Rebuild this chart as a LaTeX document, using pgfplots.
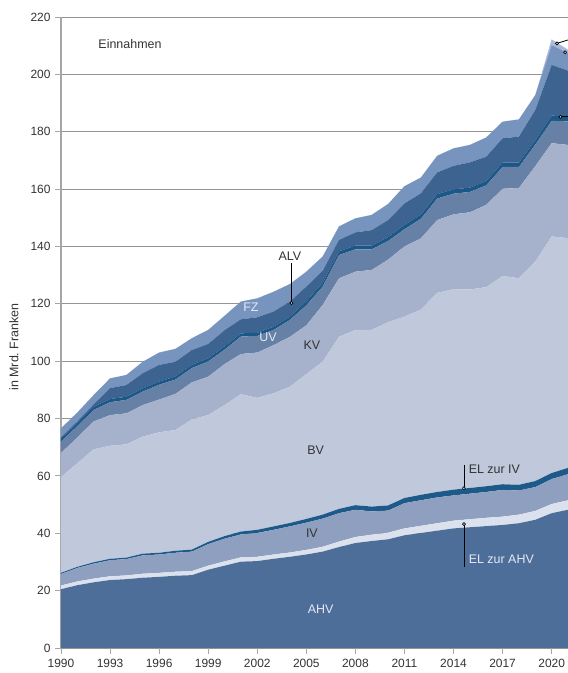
\documentclass[border=0pt]{standalone}
\usepackage{fontspec}
\setmainfont{Liberation Sans}
\usepackage{pgfplots}
\usepackage{pgfplotstable}
\pgfplotsset{compat=1.18}
\definecolor{cAHV}{HTML}{4E6E9A}
\definecolor{cELAHV}{HTML}{DCE1EE}
\definecolor{cIV}{HTML}{8E9FC0}
\definecolor{cELIV}{HTML}{1D5A8A}
\definecolor{cBV}{HTML}{C0C9DC}
\definecolor{cKV}{HTML}{A6B1CC}
\definecolor{cUV}{HTML}{6780A6}
\definecolor{cEO}{HTML}{1B5787}
\definecolor{cALV}{HTML}{3D6390}
\definecolor{cFZ}{HTML}{7794BE}
\definecolor{cCE}{HTML}{A8BAD6}
\definecolor{txt}{HTML}{333333}
\definecolor{ltxt}{HTML}{E4E9F3}
\pgfplotstableread{
year AHV ELAHV IV ELIV BV KV UV EO ALV FZ CE
1990 20.5 1.3 4.0 0.4 33.4 8.4 3.9 1.1 0.4 3.2 0
1991 21.9 1.3 4.7 0.4 36.1 9.0 4.0 1.1 0.5 3.1 0
1992 22.9 1.3 5.2 0.5 39.4 9.7 4.0 1.1 0.9 3.2 0
1993 23.7 1.3 5.6 0.5 39.4 10.7 4.5 1.1 3.8 3.4 0
1994 24.0 1.3 5.7 0.5 39.5 10.8 4.7 1.1 4.1 3.5 0
1995 24.5 1.4 6.4 0.6 40.8 11.0 4.7 1.1 5.3 4.0 0
1996 24.8 1.4 6.4 0.6 42.0 11.4 5.2 1.1 5.8 4.3 0
1997 25.2 1.4 6.6 0.7 42.1 12.6 5.0 1.1 5.1 4.5 0
1998 25.4 1.4 6.8 0.7 45.4 12.9 5.0 1.1 5.2 4.1 0
1999 27.3 1.4 7.5 0.8 44.2 13.4 5.3 1.1 5.0 4.9 0
2000 28.7 1.5 7.9 0.9 45.7 14.3 5.0 1.1 5.7 5.0 0
2001 30.1 1.5 8.0 1.0 47.9 14.0 6.1 1.1 4.9 6.2 0
2002 30.3 1.5 8.3 1.1 46.0 15.8 5.8 1.1 5.4 6.6 0
2003 31.1 1.5 8.6 1.2 46.4 16.8 5.3 1.1 5.3 6.9 0
2004 31.8 1.5 9.1 1.2 47.5 17.4 5.9 1.1 5.3 6.1 0
2005 32.6 1.6 9.5 1.3 50.5 17.0 7.0 1.3 5.2 5.2 0
2006 33.6 1.7 9.8 1.4 53.3 19.8 6.4 1.3 4.2 5.0 0
2007 35.2 1.9 9.9 1.5 60.0 20.4 8.1 1.3 4.0 4.7 0
2008 36.6 2.1 9.5 1.6 61.1 20.3 7.8 1.3 4.6 4.9 0
2009 37.3 2.2 8.1 1.7 61.6 20.9 7.2 1.3 5.4 5.3 0
2010 37.9 2.3 7.7 1.8 63.9 21.8 6.5 1.3 6.0 5.6 0
2011 39.3 2.4 8.8 1.8 63.2 24.5 6.0 1.5 7.5 6.0 0
2012 40.1 2.5 8.9 1.9 64.6 24.8 6.8 1.5 7.4 5.5 0
2013 40.9 2.6 9.0 1.9 69.4 25.4 7.5 1.5 7.6 5.8 0
2014 41.7 2.7 8.8 2.0 69.9 26.1 7.2 1.5 8.2 6.1 0
2015 42.1 2.8 8.9 2.0 69.2 26.9 7.1 1.5 8.8 6.1 0
2016 42.5 2.9 9.0 2.0 69.4 28.7 6.8 1.5 8.5 6.7 0
2017 42.9 2.9 9.3 2.0 72.6 30.4 7.6 1.5 8.5 5.8 0
2018 43.5 3.0 8.4 2.0 72.0 31.5 7.3 1.5 9.1 6.0 0
2019 44.7 3.1 8.3 2.1 76.5 33.3 7.5 1.5 10.6 5.2 0
2020 47.0 3.2 8.7 2.1 82.5 32.5 7.8 1.8 17.7 6.9 2.0
2021 48.2 3.3 9.1 2.2 80.1 32.5 8.2 1.8 15.9 6.1 1.2
}\data
\begin{document}
\begin{tikzpicture}[lab/.style={inner sep=0, font=\fontsize{12.5}{14}\selectfont}]
\begin{axis}[
  width=507bp, height=631bp, scale only axis,
  xmin=1990, xmax=2021, ymin=0, ymax=220,
  xtick={1990,1993,...,2020}, ytick={0,20,...,220},
  axis lines=left, axis line style={-},
  x axis line style={draw=none},
  y axis line style={draw=black!35, line width=1.2bp},
  ymajorgrids, grid style={draw=black!42, line width=0.8bp},
  tick align=outside, major tick length=6bp,
  tick style={draw=black!35, line width=0.9bp},
  xticklabel style={font=\fontsize{12}{14}\selectfont, text=txt, yshift=-2bp},
  yticklabel style={font=\fontsize{12}{14}\selectfont, text=txt, xshift=-1bp},
  /pgf/number format/assume math mode=true,
  /pgf/number format/1000 sep={},
  ylabel={in Mrd.\ Franken},
  every axis y label/.style={at={(axis description cs:-0.093,0.477)}, rotate=90, anchor=center, font=\fontsize{12.5}{14}\selectfont, text=txt},
  stack plots=y,
]
\addplot[fill=cAHV, draw=none] table[x=year, y=AHV]{\data} \closedcycle;
\addplot[fill=cELAHV, draw=none] table[x=year, y=ELAHV]{\data} \closedcycle;
\addplot[fill=cIV, draw=none] table[x=year, y=IV]{\data} \closedcycle;
\addplot[fill=cELIV, draw=none] table[x=year, y=ELIV]{\data} \closedcycle;
\addplot[fill=cBV, draw=none] table[x=year, y=BV]{\data} \closedcycle;
\addplot[fill=cKV, draw=none] table[x=year, y=KV]{\data} \closedcycle;
\addplot[fill=cUV, draw=none] table[x=year, y=UV]{\data} \closedcycle;
\addplot[fill=cEO, draw=none] table[x=year, y=EO]{\data} \closedcycle;
\addplot[fill=cALV, draw=none] table[x=year, y=ALV]{\data} \closedcycle;
\addplot[fill=cFZ, draw=none] table[x=year, y=FZ]{\data} \closedcycle;
\addplot[fill=cCE, draw=none] table[x=year, y=CE]{\data} \closedcycle;
\coordinate (ll) at (rel axis cs:0,0);
\coordinate (ur) at (rel axis cs:1,1);
\coordinate (tEin) at (axis cs:1992.28,210.7);
\coordinate (tFZ) at (axis cs:2001.61,118.7);
\coordinate (tUV) at (axis cs:2002.66,108.3);
\coordinate (tKV) at (axis cs:2005.34,105.6);
\coordinate (tALV) at (axis cs:2004.0,136.7);
\coordinate (tBV) at (axis cs:2005.57,68.9);
\coordinate (tIV) at (axis cs:2005.34,40.0);
\coordinate (tAHV) at (axis cs:2005.87,13.5);
\coordinate (tELIV) at (axis cs:2014.92,62.4);
\coordinate (tELAHV) at (axis cs:2014.92,30.9);
\coordinate (a1) at (axis cs:2004.09,134.1);
\coordinate (a2) at (axis cs:2004.09,120.3);
\coordinate (b1) at (axis cs:2014.64,63.8);
\coordinate (b2) at (axis cs:2014.64,55.7);
\coordinate (c1) at (axis cs:2014.64,43.2);
\coordinate (c2) at (axis cs:2014.64,28.3);
\coordinate (d1) at (axis cs:2020.32,210.8);
\coordinate (d2) at (axis cs:2021,212.0);
\coordinate (e1) at (axis cs:2020.82,207.7);
\coordinate (f1) at (axis cs:2020.54,185.2);
\coordinate (f2) at (axis cs:2021,185.2);
\end{axis}
\node[lab, anchor=west, text=txt] at (tEin) {Einnahmen};
\node[lab, text=ltxt] at (tFZ) {FZ};
\node[lab, text=ltxt] at (tUV) {UV};
\node[lab, text=txt] at (tKV) {KV};
\node[lab, text=txt] at (tALV) {ALV};
\node[lab, text=txt] at (tBV) {BV};
\node[lab, text=txt] at (tIV) {IV};
\node[lab, text=ltxt] at (tAHV) {AHV};
\node[lab, anchor=west, text=txt] at (tELIV) {EL zur IV};
\node[lab, anchor=west, text=ltxt] at (tELAHV) {EL zur AHV};
\draw[black, line width=0.9bp] (a1) -- (a2);
\draw[black, line width=0.7bp, fill=white] (a2) circle[radius=1.5bp];
\draw[black, line width=0.9bp] (b1) -- (b2);
\draw[black, line width=0.7bp, fill=white] (b2) circle[radius=1.5bp];
\draw[black, line width=0.9bp] (c1) -- (c2);
\draw[black, line width=0.7bp, fill=white] (c1) circle[radius=1.5bp];
\draw[black, line width=0.8bp] (d1) -- (d2);
\draw[black, line width=0.7bp, fill=white] (d1) circle[radius=1.5bp];
\draw[black, line width=0.7bp, fill=white] (e1) circle[radius=1.5bp];
\draw[black, line width=0.8bp] (f1) -- (f2);
\draw[black, line width=0.7bp, fill=white] (f1) circle[radius=1.5bp];
\pgfresetboundingbox
\path[use as bounding box] ([xshift=-61bp,yshift=-25bp]ll) rectangle ([yshift=17bp]ur);
\end{tikzpicture}
\end{document}
